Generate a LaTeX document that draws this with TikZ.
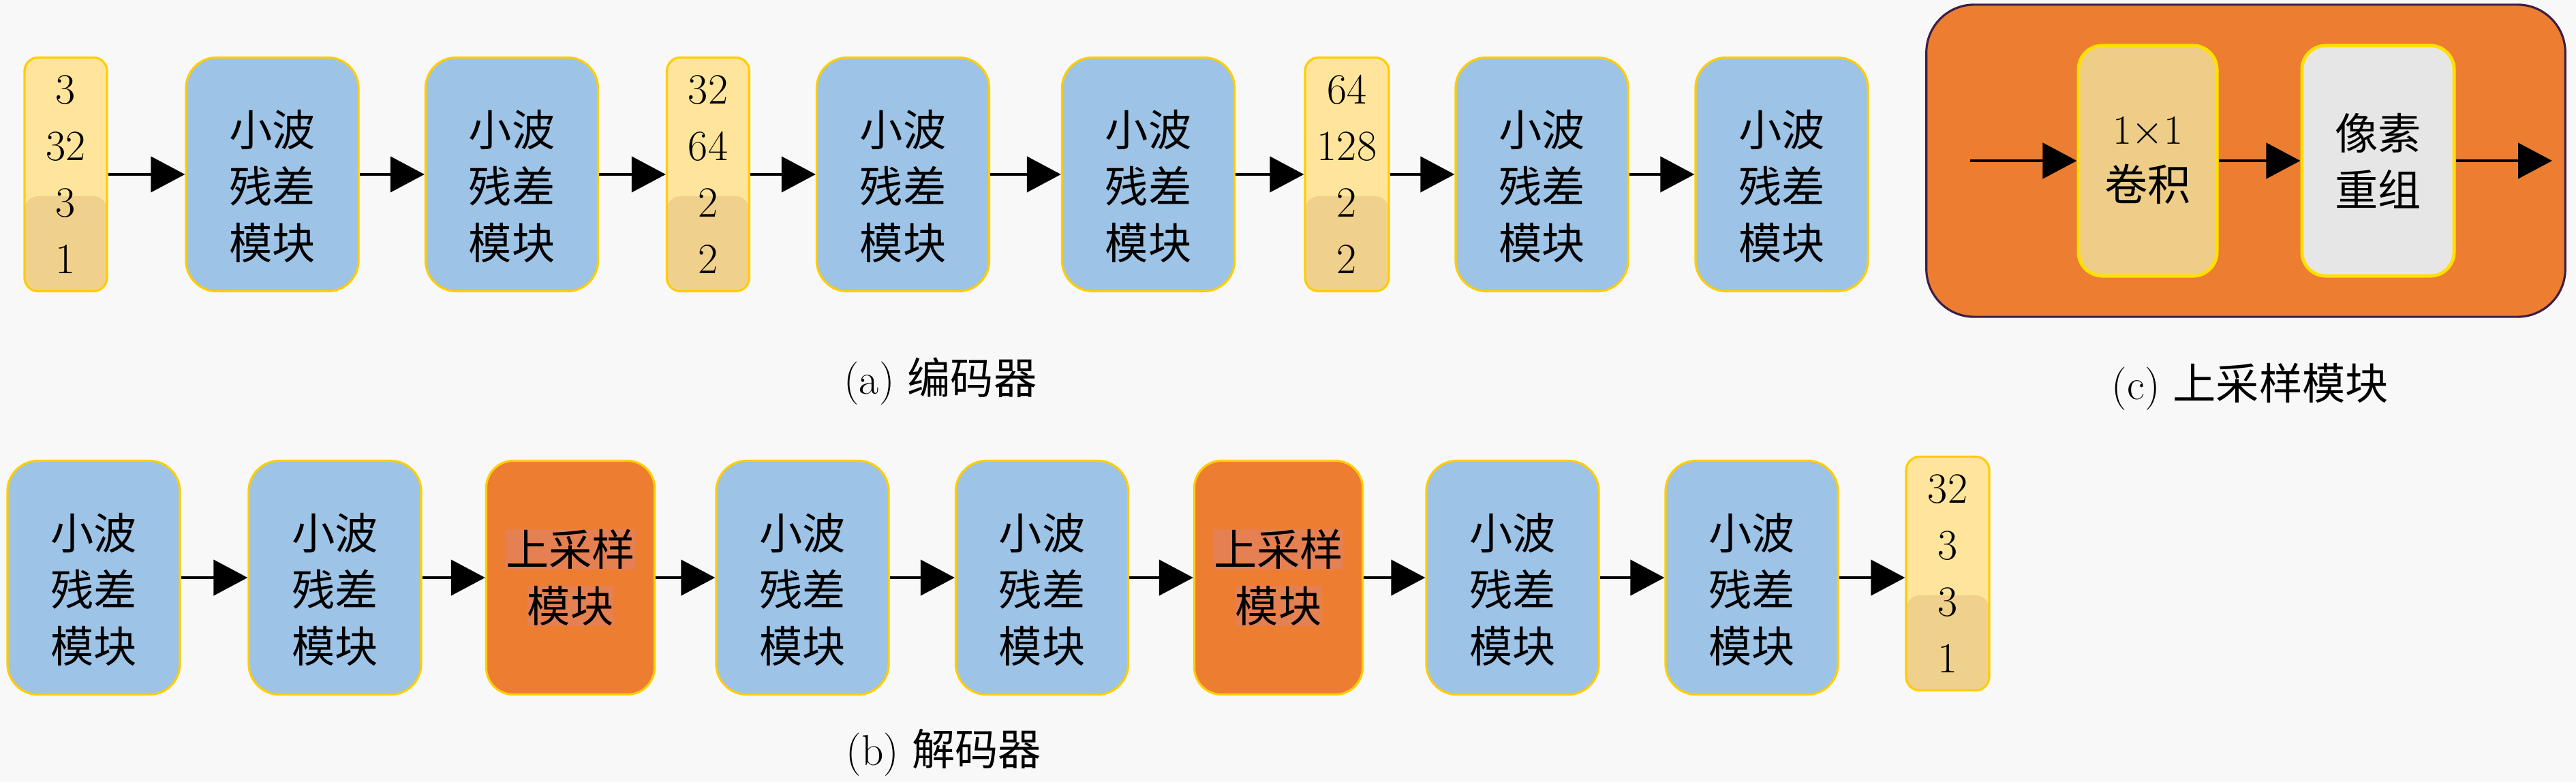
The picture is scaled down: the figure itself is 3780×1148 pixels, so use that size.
\documentclass[tikz,border=0pt]{standalone}
\usepackage{fontspec}
\usepackage{xcolor}
\usepackage{tikz}
\usetikzlibrary{arrows.meta}
\newfontfamily\cjk{Noto Sans CJK SC}
\setlength{\fboxsep}{0pt}

\definecolor{wblue}{RGB}{157,195,230}
\definecolor{uporange}{RGB}{237,125,49}
\definecolor{upshade}{RGB}{228,128,82}
\definecolor{tensorhi}{RGB}{255,229,155}
\definecolor{tensorlo}{RGB}{239,208,140}
\definecolor{convtan}{RGB}{238,205,136}
\definecolor{shufgray}{RGB}{231,230,230}
\definecolor{rimgold}{RGB}{255,205,0}
\definecolor{glowgold}{RGB}{255,225,0}
\definecolor{outerrim}{RGB}{60,30,70}
\definecolor{paper}{RGB}{248,248,248}

\begin{document}
\begin{tikzpicture}[
  x=0.01cm, y=-0.01cm,
  every node/.style={font=\fontsize{18}{23.6}\selectfont, align=center, inner sep=0pt},
  hanzi/.style={font=\cjk\fontsize{18}{23.6}\selectfont},
  wave/.style={draw=rimgold, line width=0.9pt, fill=wblue, rounded corners=0.45cm,
    minimum width=2.53cm, minimum height=3.43cm},
  upblock/.style={draw=rimgold, line width=0.9pt, fill=uporange, rounded corners=0.4cm,
    minimum width=2.47cm, minimum height=3.43cm, hanzi},
  tensor/.style={draw=rimgold, line width=0.9pt, fill=tensorhi, rounded corners=0.2cm,
    minimum width=1.21cm, minimum height=3.43cm,
    path picture={\fill[tensorlo] (path picture bounding box.south west) rectangle ([yshift=-0.32cm]path picture bounding box.east);}},
  convstage/.style={draw=glowgold, line width=1.4pt, rounded corners=0.35cm, minimum height=3.38cm},
  flow/.style={line width=1.3pt, -{Triangle[length=0.5cm,width=0.52cm]}}
]
\fill[paper] (0,0) rectangle (3780,1148);

\node[tensor] (ta1) at (96.5,256) {3\\32\\3\\1};
\node[tensor] (ta2) at (1039,256) {32\\64\\2\\2};
\node[tensor, minimum width=1.23cm] (ta3) at (1976.5,256) {64\\128\\2\\2};
\foreach \n/\x in {ea1/399.5, ea2/751, ea3/1325, ea4/1685, ea5/2262.5, ea6/2614.5}{
  \node[wave] (\n) at (\x,256) {};
  \node[hanzi] (\n t) at ([yshift=-0.17cm]\n.center) {小波\\残差\\模块};
}
\foreach \a/\b in {ta1/ea1, ea1/ea2, ea2/ta2, ta2/ea3, ea3/ea4, ea4/ta3, ta3/ea5, ea5/ea6}
  \draw[flow] (\a.east) -- (\a.east -| \b.west);
\node (capa) at (1380,560) {(a) {\cjk 编码器}};

\foreach \n/\x in {da1/137.5, da2/491.5, da3/1177.5, da4/1529, da5/2219.5, da6/2570.5}{
  \node[wave] (\n) at (\x,848) {};
  \node[hanzi] (\n t) at ([yshift=-0.17cm]\n.center) {小波\\残差\\模块};
}
\node[upblock] (up1) at (837,848) {\colorbox{upshade}{上采样}\\\colorbox{upshade}{模块}};
\node[upblock] (up2) at (1876,848) {\colorbox{upshade}{上采样}\\\colorbox{upshade}{模块}};
\node[tensor, minimum width=1.22cm] (tb1) at (2858,842) {32\\3\\3\\1};
\foreach \a/\b in {da1/da2, da2/up1, up1/da3, da3/da4, da4/up2, up2/da5, da5/da6, da6/tb1}
  \draw[flow] (\a.east) -- (\a.east -| \b.west);
\node (capb) at (1385,1105) {(b) {\cjk 解码器}};

\node[draw=outerrim, line width=0.9pt, fill=uporange, rounded corners=0.7cm,
  minimum width=9.37cm, minimum height=4.58cm] (upframe) at (3295.5,236) {};
\node[convstage, fill=convtan, minimum width=2.03cm] (conv) at (3151.5,236) {$1{\times}1$\\{\cjk 卷积}};
\node[convstage, fill=shufgray, minimum width=2.23cm, hanzi] (shuffle) at (3489.5,236) {像素\\重组};
\coordinate (cin) at (2891,236);
\coordinate (cout) at (3745,236);
\draw[flow] (cin) -- (conv);
\draw[flow] (conv) -- (shuffle);
\draw[flow] (shuffle) -- (cout);
\node (capc) at (3302,568) {(c) {\cjk 上采样模块}};
\end{tikzpicture}
\end{document}
